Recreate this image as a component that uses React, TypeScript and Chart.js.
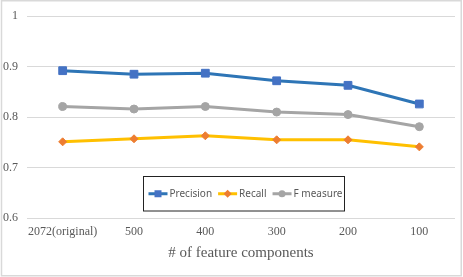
import React, { useEffect, useRef } from "react";
import { Chart, registerables } from "chart.js";

Chart.register(...registerables);

const categories = ["2072(original)", "500", "400", "300", "200", "100"];
const precision = [0.892, 0.885, 0.887, 0.872, 0.863, 0.826];
const recall = [0.751, 0.757, 0.763, 0.755, 0.755, 0.741];
const fMeasure = [0.821, 0.816, 0.821, 0.81, 0.805, 0.781];
const seriesLabels = ["Precision", "Recall", "F measure"];
const xTitle = "# of feature components";

const legendPlugin = {
  id: "boxLegend",
  afterDatasetsDraw(chart: any) {
    const ctx = chart.ctx;
    ctx.save();
    const bx = 143.5, by = 176.5, bw = 201, bh = 34.5;
    ctx.fillStyle = "#ffffff";
    ctx.fillRect(bx, by, bw, bh);
    ctx.strokeStyle = "#222222";
    ctx.lineWidth = 1;
    ctx.strokeRect(bx, by, bw, bh);
    const cy = by + bh / 2;
    ctx.font = "10px 'Noto Sans', 'Liberation Sans', sans-serif";
    ctx.textBaseline = "middle";
    ctx.textAlign = "left";
    let x = bx + 5;
    chart.data.datasets.forEach((ds: any) => {
      ctx.strokeStyle = ds.borderColor;
      ctx.lineWidth = 3;
      ctx.beginPath();
      ctx.moveTo(x, cy);
      ctx.lineTo(x + 19, cy);
      ctx.stroke();
      const mx = x + 9.5;
      ctx.fillStyle = ds.pointBackgroundColor;
      ctx.beginPath();
      if (ds.pointStyle === "rect") {
        ctx.rect(mx - 3.5, cy - 3.5, 7, 7);
      } else if (ds.pointStyle === "rectRot") {
        ctx.moveTo(mx, cy - 4);
        ctx.lineTo(mx + 4, cy);
        ctx.lineTo(mx, cy + 4);
        ctx.lineTo(mx - 4, cy);
        ctx.closePath();
      } else {
        ctx.arc(mx, cy, 3.5, 0, Math.PI * 2);
      }
      ctx.fill();
      ctx.fillStyle = "#595959";
      ctx.fillText(ds.label, x + 21, cy);
      x += 21 + ctx.measureText(ds.label).width + 6;
    });
    ctx.restore();
  },
  afterDraw(chart: any) {
    const ctx = chart.ctx;
    ctx.save();
    ctx.strokeStyle = "#d9d9d9";
    ctx.lineWidth = 1.5;
    ctx.strokeRect(1.5, 0.75, 459.75, 275);
    ctx.restore();
  },
};

export default function App() {
  const ref = useRef<HTMLCanvasElement | null>(null);
  useEffect(() => {
    if (!ref.current) return;
    const chart = new Chart(ref.current, {
      type: "line",
      data: {
        labels: categories,
        datasets: [
          {
            label: seriesLabels[0],
            data: precision,
            borderColor: "#2E75B6",
            backgroundColor: "#4472C4",
            pointBackgroundColor: "#4472C4",
            pointBorderColor: "#4472C4",
            pointStyle: "rect",
            pointRadius: 5.5,
            pointBorderWidth: 1,
            borderWidth: 3,
            tension: 0,
          },
          {
            label: seriesLabels[1],
            data: recall,
            borderColor: "#FFC000",
            backgroundColor: "#ED7D31",
            pointBackgroundColor: "#ED7D31",
            pointBorderColor: "#ED7D31",
            pointStyle: "rectRot",
            pointRadius: 4,
            pointBorderWidth: 1,
            borderWidth: 3,
            tension: 0,
          },
          {
            label: seriesLabels[2],
            data: fMeasure,
            borderColor: "#A5A5A5",
            backgroundColor: "#A5A5A5",
            pointBackgroundColor: "#A5A5A5",
            pointBorderColor: "#A5A5A5",
            pointStyle: "circle",
            pointRadius: 4,
            pointBorderWidth: 1,
            borderWidth: 3,
            tension: 0,
          },
        ] as any,
      },
      options: {
        animation: false,
        responsive: false,
        maintainAspectRatio: false,
        layout: { padding: { left: 0, right: 8, top: 12, bottom: 0 } },
        plugins: {
          legend: { display: false },
          tooltip: { enabled: false },
        },
        scales: {
          x: {
            offset: true,
            grid: { display: false, drawTicks: false, offset: true },
            border: { display: false },
            ticks: {
              color: "#595959",
              font: { family: "'Liberation Serif', 'Times New Roman', serif", size: 12 },
              padding: 7,
              maxRotation: 0,
              autoSkip: false,
            },
            title: {
              display: true,
              text: xTitle,
              color: "#595959",
              font: { family: "'Liberation Serif', 'Times New Roman', serif", size: 15 },
              padding: { top: 0, bottom: 15 },
            },
            afterFit(scale: any) {
              scale.height = 59;
            },
          },
          y: {
            min: 0.6,
            max: 1,
            grid: { color: "#d9d9d9", lineWidth: 1, drawTicks: false },
            border: { display: false },
            ticks: {
              stepSize: 0.1,
              color: "#595959",
              font: { family: "'Liberation Serif', 'Times New Roman', serif", size: 12 },
              padding: 9,
              callback: (v: any) => String(Number(Number(v).toFixed(1))),
            },
            afterFit(scale: any) {
              scale.width = 27;
            },
          },
        },
      },
      plugins: [legendPlugin],
    });
    return () => chart.destroy();
  }, []);
  return (
    <div style={{ position: "fixed", left: 0, top: 0, width: 463, height: 277, background: "#fff" }}>
      <canvas ref={ref} width={463} height={277} style={{ width: 463, height: 277, display: "block" }} />
    </div>
  );
}
